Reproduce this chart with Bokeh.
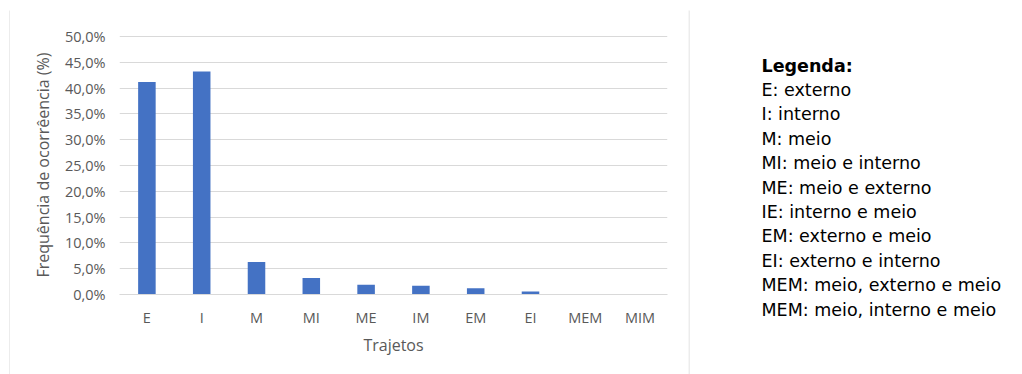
from bokeh.plotting import figure
from bokeh.layouts import row
from bokeh.models import (FactorRange, Range1d, CustomJSTickFormatter,
                          FixedTicker, ColumnDataSource)
from bokeh.core.properties import value
from bokeh.embed import file_html
from bokeh.resources import INLINE

# Route categories and their share of occurrences (%)
trajetos = ["E", "I", "M", "MI", "ME", "IM", "EM", "EI", "MEM", "MIM"]
frequencia = [41.2, 43.2, 6.3, 3.2, 1.9, 1.7, 1.2, 0.6, 0.0, 0.0]
y_ticks = [0, 5, 10, 15, 20, 25, 30, 35, 40, 45, 50]

legenda_titulo = "Legenda:"
legenda_itens = [
    "E: externo",
    "I: interno",
    "M: meio",
    "MI: meio e interno",
    "ME: meio e externo",
    "IE: interno e meio",
    "EM: externo e meio",
    "EI: externo e interno",
    "MEM: meio, externo e meio",
    "MEM: meio, interno e meio",
]

H = 374
BORDER = "#d9d9d9"


def blank(width):
    f = figure(width=width, height=H, output_backend="svg", toolbar_location=None,
               x_range=Range1d(0, width), y_range=Range1d(H, 0),
               min_border=0, outline_line_color=None, frame_align=False)
    f.axis.visible = False
    f.grid.visible = False
    return f


# Left strip carrying the chart box's left edge
strip = blank(10)
strip.quad(left=[9], right=[10], top=[10], bottom=[H], color=BORDER, line_color=None)

# Bar chart
font = "Open Sans"
grey = "#595959"
p = figure(width=678, height=H, output_backend="svg", toolbar_location=None,
           x_range=FactorRange(*trajetos, range_padding=0),
           y_range=Range1d(0, 50.2),
           min_border_left=109, min_border_right=21,
           min_border_top=35, min_border_bottom=80)
p.outline_line_color = None

src = ColumnDataSource(dict(x=trajetos, y=frequencia))
p.vbar(x="x", top="y", width=0.32, source=src, color="#4472C4", line_color=None)

p.xgrid.grid_line_color = None
p.ygrid.grid_line_color = BORDER
p.yaxis.ticker = FixedTicker(ticks=y_ticks)
p.yaxis.formatter = CustomJSTickFormatter(
    code="return tick.toFixed(1).replace('.', ',') + '%';")
for ax in (p.xaxis[0], p.yaxis[0]):
    ax.major_tick_line_color = None
    ax.minor_tick_line_color = None
    ax.major_tick_out = 0
    ax.major_tick_in = 0
    ax.major_label_text_font = font
    ax.major_label_text_font_size = "14.5px"
    ax.major_label_text_color = grey
    ax.axis_label_text_font = font
    ax.axis_label_text_font_size = "16px"
    ax.axis_label_text_color = grey
    ax.axis_label_text_font_style = "normal"
p.yaxis.axis_line_color = None
p.xaxis.axis_line_color = BORDER
p.yaxis.major_label_standoff = 14
p.xaxis.major_label_standoff = 13
p.xaxis.axis_label = "Trajetos"
p.yaxis.axis_label = "Frequência de ocorrêencia (%)"
p.xaxis.axis_label_standoff = 4
p.yaxis.axis_label_standoff = 8

# Legend panel with the chart box's right edge
leg = blank(334)
leg.quad(left=[0], right=[1], top=[10], bottom=[H], color=BORDER, line_color=None)
lx = 73
y0 = 65
step = 24.4
legend_font = value("DejaVu Sans")
leg.text(x=[lx], y=[y0], text=[legenda_titulo], text_font=legend_font,
         text_font_size="17.5px", text_font_style="bold", text_color="black",
         text_baseline="middle")
leg.text(x=[lx] * len(legenda_itens),
         y=[y0 + step * (i + 1) for i in range(len(legenda_itens))],
         text=legenda_itens, text_font=legend_font,
         text_font_size="17.5px", text_color="black", text_baseline="middle")

layout = row(strip, p, leg, spacing=0)
open("out.html", "w").write(file_html(layout, INLINE))
